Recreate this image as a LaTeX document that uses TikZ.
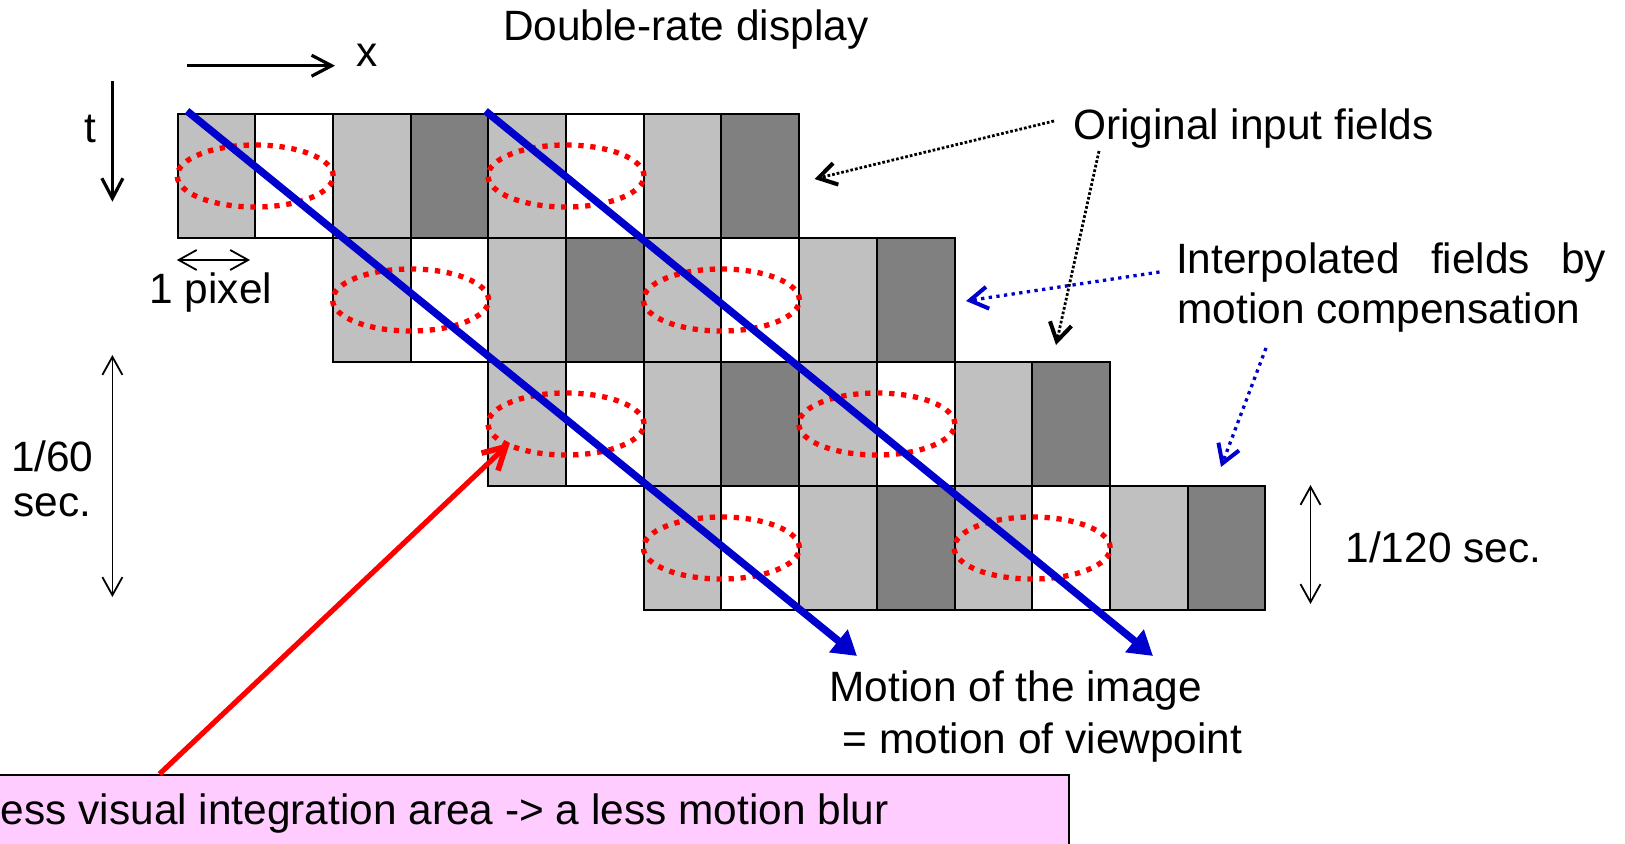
\documentclass[tikz,border=0pt]{standalone}
\usepackage{fontspec}
\setmainfont{Liberation Sans}
\usetikzlibrary{arrows.meta,shapes.geometric}
\definecolor{lgray}{HTML}{C0C0C0}
\definecolor{dgray}{HTML}{808080}
\definecolor{mblue}{HTML}{0000CC}
\definecolor{mred}{HTML}{FF0000}
\definecolor{mpink}{HTML}{FFCCFF}
\begin{document}
\begin{tikzpicture}[x=0.5pt,y=-0.5pt,
  txt/.style={inner sep=0pt,outer sep=0pt,anchor=base west,font=\fontsize{21.2pt}{25pt}\selectfont},
  cell/.style={draw=black,line width=1pt,minimum width=38.85pt,minimum height=62pt,anchor=north west,inner sep=0pt,outer sep=0pt},
  ell/.style={ellipse,draw=mred,line width=2.65pt,dash pattern=on 2.65pt off 3.35pt,minimum width=78pt,minimum height=31pt,inner sep=0pt},
  motion/.style={draw=mblue,line width=3.7pt,-{Triangle[length=12pt,width=14pt]}},
  axis/.style={draw=black,line width=1.6pt,-{Straight Barb[length=10pt,width=10.5pt]}},
  span/.style={draw=black,line width=0.9pt,{Straight Barb[length=9pt,width=10pt]}-{Straight Barb[length=9pt,width=10pt]}},
  hintk/.style={draw=black,line width=1.4pt,dash pattern=on 1.35pt off 1.0pt,-{Straight Barb[length=9pt,width=11pt,line width=2pt]}},
  hintb/.style={draw=mblue,line width=1.65pt,dash pattern=on 1.65pt off 2.2pt,-{Straight Barb[length=9pt,width=11pt,line width=2pt]}},
  redarrow/.style={draw=mred,line width=2.6pt,-{Straight Barb[length=11pt,width=12pt,line width=2.8pt]}},
  notebox/.style={draw=black,line width=1pt,fill=mpink,anchor=north west,minimum width=538.75pt,minimum height=50pt,inner sep=0pt}
]
\useasboundingbox (0,0) rectangle (1625,844);
\fill[white] (0,0) rectangle (1625,844);

% grid of fields
\foreach \r in {0,...,3} {
  \foreach \k/\c in {0/lgray,1/white,2/lgray,3/dgray,4/lgray,5/white,6/lgray,7/dgray} {
    \node[cell,fill=\c] (c\r\k) at ({177.5+(2*\r+\k)*77.7},{114+124*\r}) {};
  }
}
% integration areas
\foreach \r in {0,...,3} {
  \node[ell] (ea\r) at ({177.5+(2*\r+1)*77.7},{176+124*\r}) {};
  \node[ell] (eb\r) at ({177.5+(2*\r+5)*77.7},{176+124*\r}) {};
}

% motion lines
\coordinate (m1s) at (187,111);
\coordinate (m1e) at (857,656);
\coordinate (m2s) at (485.5,111);
\coordinate (m2e) at (1153,656);
\draw[motion] (m1s) -- (m1e);
\draw[motion] (m2s) -- (m2e);

% axes
\coordinate (xs) at (187,65.7);
\coordinate (xe) at (335,65.7);
\coordinate (ts) at (112.4,81);
\coordinate (te) at (112.4,201.7);
\draw[axis] (xs) -- (xe);
\draw[axis] (ts) -- (te);
\node[txt] (xl) at (356.5,66.7) {x};
\node[txt] (tl) at (84,142.7) {t};

% spans
\coordinate (ps) at (176.8,260);
\coordinate (pe) at (250,260);
\draw[span] (ps) -- (pe);
\node[txt] (pl) at (149.5,304) {1 pixel};
\coordinate (s60a) at (112.4,355);
\coordinate (s60b) at (112.4,597);
\draw[span] (s60a) -- (s60b);
\node[txt] (l60a) at (11,471) {1/60};
\node[txt] (l60b) at (13.3,516) {sec.};
\coordinate (s120a) at (1310.5,485);
\coordinate (s120b) at (1310.5,604);
\draw[span] (s120a) -- (s120b);
\node[txt] (l120) at (1345.5,562) {1/120 sec.};

% titles and labels
\node[txt] (title) at (503,40.7) {Double-rate display};
\node[txt] (orig) at (1073,140) {Original input fields};
\node[txt] (interpa) at (1176,274) {\makebox[215pt][s]{Interpolated fields by}};
\node[txt] (interpb) at (1177.5,323) {motion compensation};
\node[txt] (mota) at (829.5,701) {Motion of the image};
\node[txt] (motb) at (842.7,753) {= motion of viewpoint};

% hint arrows
\coordinate (h1s) at (1054,121);
\coordinate (h1e) at (814.5,179);
\coordinate (h2s) at (1099,151);
\coordinate (h2e) at (1056,345);
\draw[hintk] (h1s) -- (h1e);
\draw[hintk] (h2s) -- (h2e);
\coordinate (h3s) at (1159.5,272);
\coordinate (h3e) at (966,301);
\coordinate (h4s) at (1266,348);
\coordinate (h4e) at (1221,467);
\draw[hintb] (h3s) -- (h3e);
\draw[hintb] (h4s) -- (h4e);

% note box
\begin{scope}
  \clip (0,0) rectangle (1625,844);
  \node[notebox] (note) at (-10,774) {};
  \node[txt] (notetext) at (1,824) {ess visual integration area -> a less motion blur};
\end{scope}
\coordinate (rs) at (159.5,774);
\coordinate (rt) at (510,442.7);
\draw[redarrow] (rs) -- (rt);
\end{tikzpicture}
\end{document}
